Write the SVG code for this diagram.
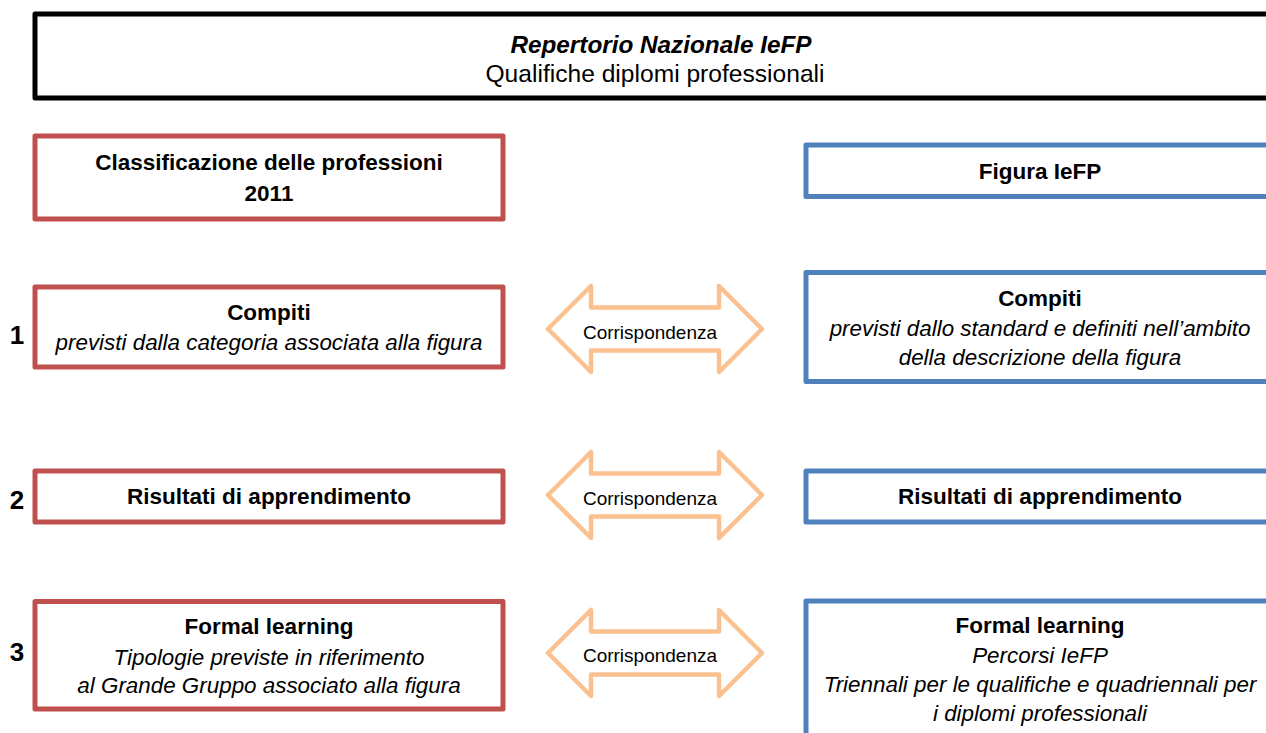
<svg xmlns="http://www.w3.org/2000/svg" xmlns:xlink="http://www.w3.org/1999/xlink" width="1266" height="733" viewBox="0 0 1266 733">
<style>
  text { font-family: "Liberation Sans", Arial, sans-serif; fill: #000; }
  .t { text-anchor: middle; }
  .b { font-weight: bold; font-size: 22.5px; }
  .i { font-style: italic; font-size: 22.4px; }
  .num { font-weight: bold; font-size: 26px; text-anchor: middle; }
  .title-b { font-weight: bold; font-style: italic; font-size: 24.3px; }
  .title-r { font-size: 24.6px; }
  .red { fill: #fff; stroke: #C0504D; stroke-width: 5; stroke-linejoin: round; }
  .blue { fill: #fff; stroke: #4F81BD; stroke-width: 5; stroke-linejoin: round; }
  .black { fill: #fff; stroke: #000; stroke-width: 5; stroke-linejoin: round; }
  .arrow { fill: #fff; stroke: #FAC090; stroke-width: 4.5; stroke-linejoin: round; }
  .lbl { font-size: 19px; text-anchor: middle; }
</style>
<defs>
  <path id="dblArrow" d="M548,0 L591,-43 L591,-21.5 L719,-21.5 L719,-43 L762,0 L719,43 L719,21.5 L591,21.5 L591,43 Z"/>
</defs>
<rect width="1266" height="733" fill="#fff"/>

<g id="title">
  <rect class="black" x="35" y="14" width="1300" height="84"/>
  <text class="t title-b" x="661" y="53">Repertorio Nazionale IeFP</text>
  <text class="t title-r" x="655" y="82">Qualifiche diplomi professionali</text>
</g>

<g id="connectors">
  <g id="arrow1">
    <use xlink:href="#dblArrow" class="arrow" transform="translate(0,329)"/>
    <text class="lbl" x="650" y="339">Corrispondenza</text>
  </g>
  <g id="arrow2">
    <use xlink:href="#dblArrow" class="arrow" transform="translate(0,495)"/>
    <text class="lbl" x="650" y="505">Corrispondenza</text>
  </g>
  <g id="arrow3">
    <use xlink:href="#dblArrow" class="arrow" transform="translate(0,653)"/>
    <text class="lbl" x="650" y="662">Corrispondenza</text>
  </g>
</g>

<g id="numbers">
  <text class="num" x="17" y="344">1</text>
  <text class="num" x="17" y="509">2</text>
  <text class="num" x="17" y="661">3</text>
</g>

<g id="left-classificazione">
  <rect class="red" x="35" y="136" width="468" height="83"/>
  <text class="t b" x="269" y="170">Classificazione delle professioni</text>
  <text class="t b" x="269" y="201">2011</text>
</g>
<g id="left-compiti">
  <rect class="red" x="35" y="287" width="468" height="80"/>
  <text class="t b" x="269" y="320">Compiti</text>
  <text class="t i" x="269" y="350">previsti dalla categoria associata alla figura</text>
</g>
<g id="left-risultati">
  <rect class="red" x="35" y="471" width="468" height="51"/>
  <text class="t b" x="269" y="504">Risultati di apprendimento</text>
</g>
<g id="left-formal">
  <rect class="red" x="35" y="601.5" width="468" height="107.5"/>
  <text class="t b" x="269" y="634">Formal learning</text>
  <text class="t i" x="269" y="665">Tipologie previste in riferimento</text>
  <text class="t i" x="269" y="693">al Grande Gruppo associato alla figura</text>
</g>

<g id="right-figura">
  <rect class="blue" x="806" y="145" width="520" height="51.5"/>
  <text class="t b" x="1040" y="179">Figura IeFP</text>
</g>
<g id="right-compiti">
  <rect class="blue" x="806" y="272.5" width="520" height="109"/>
  <text class="t b" x="1040" y="306">Compiti</text>
  <text class="t i" x="1040" y="336">previsti dallo standard e definiti nell’ambito</text>
  <text class="t i" x="1040" y="365">della descrizione della figura</text>
</g>
<g id="right-risultati">
  <rect class="blue" x="806" y="471" width="520" height="51"/>
  <text class="t b" x="1040" y="504">Risultati di apprendimento</text>
</g>
<g id="right-formal">
  <rect class="blue" x="806" y="601" width="520" height="200"/>
  <text class="t b" x="1040" y="633">Formal learning</text>
  <text class="t i" x="1040" y="663">Percorsi IeFP</text>
  <text class="t i" x="1040" y="692">Triennali per le qualifiche e quadriennali per</text>
  <text class="t i" x="1040" y="721">i diplomi professionali</text>
</g>
</svg>
